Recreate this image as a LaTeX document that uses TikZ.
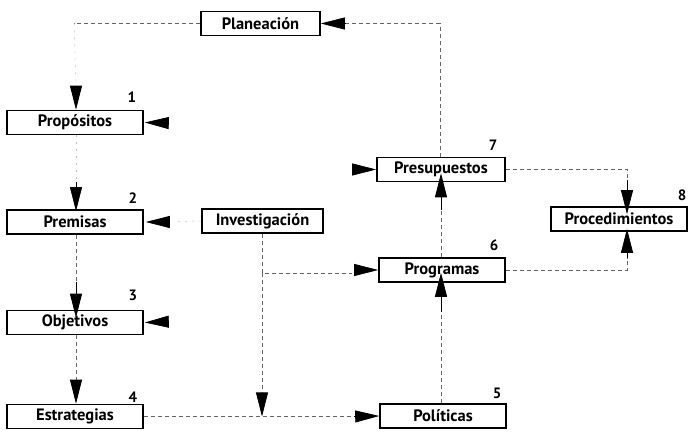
\documentclass[tikz,border=0pt]{standalone}
\usepackage{fontspec}
\setmainfont{PT Sans}
\usetikzlibrary{arrows.meta,calc}
\begin{document}
\begin{tikzpicture}[x=1pt,y=-1pt,
  box/.style={draw=black,line width=1.6pt,inner sep=0pt,minimum height=24pt,font=\fontsize{16.5}{19}\selectfont\bfseries},
  num/.style={font=\fontsize{15}{17}\selectfont\bfseries,inner sep=0pt},
  conn/.style={draw=black!60,line width=0.7pt,dash pattern=on 4pt off 3pt},
  faint/.style={draw=black!25,line width=0.5pt,dash pattern=on 2pt off 5pt},
  tip/.style={-{Triangle[length=24pt,width=12pt]},draw=black,line width=0.7pt}]
\useasboundingbox (0,0) rectangle (689,435);
% boxes
\node[box,minimum width=119pt] (plan) at (260.5,23.5) {Planeación};
\node[box,minimum width=136pt] (prop) at (75,122.5) {Propósitos};
\node[box,minimum width=136pt] (prem) at (75,222) {Premisas};
\node[box,minimum width=136pt] (obj) at (75,322.5) {Objetivos};
\node[box,minimum width=136pt] (estr) at (75,416.5) {Estrategias};
\node[box,minimum width=121pt] (inv) at (262.5,221) {Investigación};
\node[box,minimum width=128pt] (pres) at (441,169.5) {Presupuestos};
\node[box,minimum width=126pt] (prog) at (442,270) {Programas};
\node[box,minimum width=126pt] (pol) at (443,416) {Políticas};
\node[box,minimum width=136pt] (proc) at (619,219) {Procedimientos};
% numbers
\node[num] (n1) at (132,97) {1};
\node[num] (n2) at (133,198) {2};
\node[num] (n3) at (133,295) {3};
\node[num] (n4) at (133,397) {4};
\node[num] (n5) at (497,393) {5};
\node[num] (n6) at (494,245) {6};
\node[num] (n7) at (493,145) {7};
\node[num] (n8) at (682,195) {8};
% coordinates
\coordinate (tl) at (74,23.5);
\coordinate (tr) at (440,23.5);
\coordinate (ia) at (262,273);
\coordinate (ib) at (262,416.5);
\coordinate (pr1) at (627,169.5);
\coordinate (pr2) at (627,270);
\coordinate (s1) at (166,123);
\coordinate (s2) at (160,322);
\coordinate (s3) at (357,169.5);
% top loop
\draw[conn] (plan.west) -- (tl);
\draw[faint] (tl) -- (76,85);
\draw[tip] (76,86) -- (prop.north -| 76,0);
\draw[conn] (pres.north -| tr) -- (tr) -- (345,23.5);
\draw[tip] (345,23.5) -- (plan.east);
% left column
\draw[faint] (prop.south -| 76,0) -- (76,180);
\draw[tip] (76,182) -- ([yshift=-2pt]prem.north -| 76,0);
\draw[conn] (prem.south -| 76,0) -- (76,282);
\draw[tip] (76,282) -- ([yshift=-8pt]obj.north -| 76,0);
\draw[conn] (obj.south -| 76,0) -- (76,388);
\draw[tip] (76,386) -- (estr.north -| 76,0);
% stubs
\draw[tip] (s1) -- ([xshift=1pt]prop.east);
\draw[tip] (s2) -- ([xshift=1pt]obj.east);
\draw[tip] (s3) -- (pres.west);
% investigacion
\draw[faint] (inv.west) -- (176,221.5);
\draw[tip] (167,222) -- ([xshift=2pt]prem.east);
\draw[conn] (inv.south -| ia) -- (ia) -- (352,273);
\draw[tip] (355,270) -- (prog.west);
\draw[conn] (ia) -- (262,396);
\draw[tip] (262,396) -- (ib);
\draw[conn] (estr.east) -- (352,416.5);
\draw[tip] (354,416.5) -- (pol.west);
% right side
\draw[conn] (pol.north -| 441,0) -- (441,310);
\draw[tip] (441,312) -- ([yshift=10pt]prog.south -| 441,0);
\draw[conn] (prog.north -| 441,0) -- (441,210);
\draw[tip] (441,210) -- ([yshift=9pt]pres.south -| 441,0);
\draw[conn] (pres.east) -- (pr1) -- (627,180);
\draw[tip] (627,180) -- ([yshift=-8pt]proc.north -| pr1);
\draw[conn] (prog.east) -- (pr2) -- (627,258);
\draw[tip] (627,258) -- ([yshift=3pt]proc.south -| pr2);
\end{tikzpicture}
\end{document}
